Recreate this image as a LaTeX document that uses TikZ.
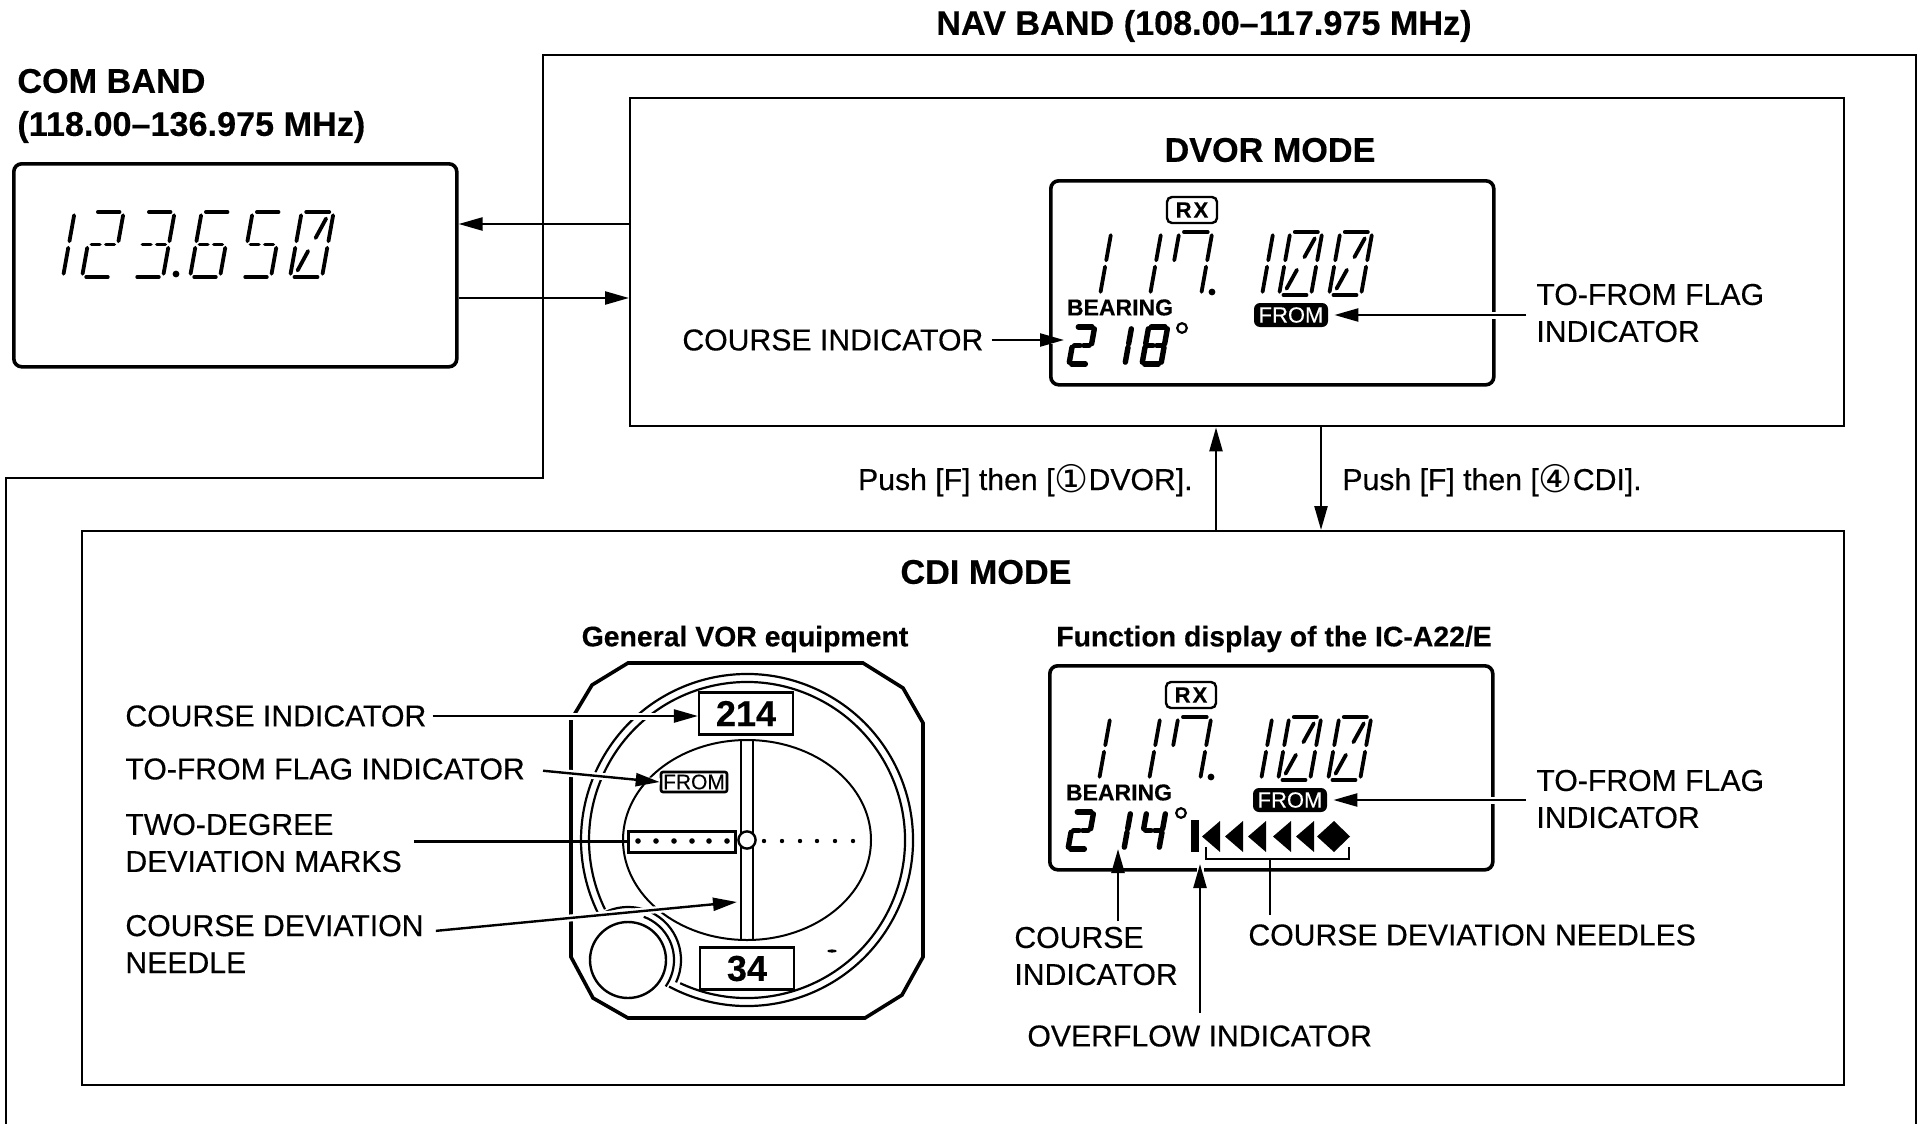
\documentclass[tikz,border=0pt]{standalone}
\usepackage{fontspec}
\setmainfont{Liberation Sans}[RawFeature={embolden=0.35}]
\newfontfamily\symfont{DejaVu Sans}
\usetikzlibrary{arrows.meta,calc}

\tikzset{
    label/.style={inner sep=0pt,anchor=west,align=left,font=\fontsize{15.1}{18.5}\selectfont},
    bandtitle/.style={inner sep=0pt,align=left,font=\bfseries\fontsize{17.1}{21}\selectfont},
    subtitle/.style={inner sep=0pt,font=\bfseries\fontsize{14.2}{17}\selectfont},
    framebox/.style={draw,line width=1.2pt,anchor=north west,inner sep=0pt},
    lcdbox/.style={draw,line width=1.8pt,rounded corners=4pt,anchor=north west,inner sep=0pt},
    flagbox/.style={fill=black,text=white,rounded corners=3pt,inner sep=0pt,minimum width=37pt,minimum height=12pt,font=\fontsize{11}{12}\selectfont},
    rxbox/.style={draw,line width=1.2pt,rounded corners=2.5pt,inner sep=0pt,minimum width=25pt,minimum height=13pt,font=\bfseries\fontsize{11}{12}\selectfont},
    readout/.style={draw,line width=1.1pt,fill=white,inner sep=0pt,minimum width=47pt,minimum height=21pt,font=\bfseries\fontsize{18}{20}\selectfont},
    flecha/.style={-{Triangle[length=12pt,width=6.5pt]},line width=1.2pt},
    halo/.style={preaction={draw=white,line width=3.5pt,-}},
    lcdseg/.style={line width=1.9pt,line cap=round},
}

% Segments of one LCD digit, 1 wide and 2 high
\newcommand{\lcdA}{\draw[lcdseg] (.14,2) -- (.86,2);}
\newcommand{\lcdB}{\draw[lcdseg] (1,1.1) -- (1,1.9);}
\newcommand{\lcdC}{\draw[lcdseg] (1,.1) -- (1,.9);}
\newcommand{\lcdD}{\draw[lcdseg] (.14,0) -- (.86,0);}
\newcommand{\lcdE}{\draw[lcdseg] (0,.1) -- (0,.9);}
\newcommand{\lcdF}{\draw[lcdseg] (0,1.1) -- (0,1.9);}
\newcommand{\lcdL}{\draw[lcdseg] (.12,1) -- (.4,1);}
\newcommand{\lcdR}{\draw[lcdseg] (.6,1) -- (.88,1);}
\newcommand{\lcdS}{\draw[lcdseg] (.8,1.8) -- (.58,1.2);}
\newcommand{\lcdT}{\draw[lcdseg] (.42,.8) -- (.2,.2);}
\newcommand{\lcddigit}[5]{%
    \begin{scope}[shift={(#1,#2)},x=#3*0.5pt,y=#4*0.25pt,xslant=.18]
        \foreach \s in {#5} {\csname lcd\s\endcsname}
    \end{scope}}

% Display shared by both modes
\newcommand{\lcdpanel}[5]{%
    \begin{scope}[shift={(#2,#3)}]
        \node[lcdbox,minimum width=221.5pt,minimum height=102pt] (#1lcd) at (1048,664) {};
        \node[rxbox] (#1rx) at (1191,695) {R\kern1pt X};
        \lcddigit{1099}{780}{30}{63}{F,E}
        \lcddigit{1149}{780}{30}{63}{F,E}
        \lcddigit{1167}{780}{33}{63}{A,B,C,F}
        \fill (1211,777) circle (1.7pt);
        \lcddigit{1261}{780}{30}{63}{F,E}
        \lcddigit{1278}{780}{32}{63}{A,B,C,D,E,F,S,T}
        \lcddigit{1328}{780}{32}{63}{A,B,C,D,E,F,S,T}
        \node[inner sep=0pt,font=\bfseries\fontsize{11.5}{12}\selectfont] (#1bearing) at (1119,792.5) {BEARING};
        \node[flagbox] (#1from) at (1290,800) {FROM};
        \begin{scope}[lcdseg/.style={line width=2.7pt,line cap=round}]
            \lcddigit{1068}{849}{19}{37}{A,B,L,R,E,D}
            \lcddigit{1124}{849}{19}{37}{F,E}
            \lcddigit{#4}{849}{19}{37}{#5}
        \end{scope}
        \draw[line width=1.1pt] (1181,813) circle (2.4pt);
    \end{scope}}

\begin{document}
\begin{tikzpicture}[x=0.5pt,y=-0.5pt]
    \useasboundingbox (0,0) rectangle (1922,1124);

    % Frame of the nav band
    \draw[line width=1.2pt] (6,1124) -- (6,478) -- (543,478) -- (543,55) -- (1916,55) -- (1916,1124);
    \node[bandtitle] (navtitle) at (1204,26) {NAV BAND (108.00–117.975 MHz)};

    % Com band
    \node[bandtitle,anchor=west] (comtitle) at (17,81) {COM BAND};
    \node[bandtitle,anchor=west] (comrange) at (17,127) {(118.00–136.975 MHz)};
    \node[lcdbox,minimum width=221.5pt,minimum height=101.5pt] (combox) at (12,162) {};
    \lcddigit{63}{277}{30}{65}{F,E}
    \lcddigit{82}{277}{30}{65}{A,B,L,R,E,D}
    \lcddigit{133}{277}{30}{65}{A,B,L,R,C,D}
    \fill (176,274) circle (1.7pt);
    \lcddigit{190}{277}{30}{65}{A,F,L,R,E,C,D}
    \lcddigit{241}{277}{30}{65}{A,F,L,R,C,D}
    \lcddigit{290}{277}{32}{65}{A,B,C,D,E,F,S,T}

    % DVOR mode
    \node[framebox,minimum width=607pt,minimum height=164pt] (dvorbox) at (629,97) {};
    \node[bandtitle] (dvortitle) at (1270,150) {DVOR MODE};
    \lcdpanel{dvor}{1}{-485}{1141}{A,B,C,D,E,F,L,R}
    \coordinate (dvordigit) at (1064,340);
    \node[label] (dvorcourse) at (682,340) {COURSE INDICATOR};
    \node[label] (dvorflag) at (1536,313) {TO-FROM FLAG\\INDICATOR};
    \draw[flecha,halo,shorten <=4pt] (dvorcourse.east) -- (dvordigit);
    \draw[flecha,halo,shorten <=5pt,shorten >=3pt] (dvorfrom.east -| dvorflag.west) -- (dvorfrom.east);

    % Links between the com band and DVOR mode
    \coordinate (comout) at (456,298);
    \coordinate (comin) at (456,224);
    \draw[flecha] (dvorbox.west |- comin) -- (combox.east |- comin);
    \draw[flecha] (combox.east |- comout) -- (dvorbox.west |- comout);

    % CDI mode
    \node[framebox,minimum width=881pt,minimum height=277pt] (cdibox) at (81,530) {};
    \node[bandtitle] (cdititle) at (986,572) {CDI MODE};
    \node[subtitle] (vortitle) at (745,639) {General VOR equipment};
    \node[subtitle] (functitle) at (1274,639) {Function display of the IC-A22/E};

    % Links between the two modes
    \coordinate (pushup) at (1216,490);
    \coordinate (pushdown) at (1321,490);
    \draw[flecha] (pushup |- cdibox.north) -- (pushup |- dvorbox.south);
    \draw[flecha] (pushdown |- dvorbox.south) -- (pushdown |- cdibox.north);
    \node[label,anchor=base east] (pushdvor) at (1193,490) {Push [F] then [\raisebox{-1.4pt}{\symfont\fontsize{19}{16}\selectfont ①}DVOR].};
    \node[label,anchor=base west] (pushcdi) at (1342,490) {Push [F] then [\raisebox{-1.4pt}{\symfont\fontsize{19}{16}\selectfont ④}CDI].};

    % VOR instrument
    \coordinate (dial) at (747,840);
    \coordinate (knob) at (628,960);
    \draw[line width=1pt] (dial) ellipse [x radius=62pt,y radius=50pt];
    \fill[white] (knob) circle (27pt);
    \draw[line width=1.8pt] (628,663) -- (863,663) -- (903,688) -- (923,723) -- (923,957) -- (902,995) -- (865,1018)
        -- (628,1018) -- (593,998) -- (571,957) -- (571,720) -- (592,685) -- cycle;
    \draw[line width=1.1pt] ([shift={(242:83pt)}]dial) arc[start angle=242,end angle=566,radius=83pt];
    \draw[line width=1.1pt] ([shift={(245:79pt)}]dial) arc[start angle=245,end angle=566,radius=79pt];
    \draw[line width=1.1pt] ([shift={(-25:26.5pt)}]knob) arc[start angle=-25,end angle=118,radius=26.5pt];
    \draw[line width=1.1pt] ([shift={(-35:23pt)}]knob) arc[start angle=-35,end angle=70,radius=23pt];
    \draw[line width=1.2pt] (knob) circle (19pt);
    \draw[line width=1.1pt] (741,740) -- (741,940);
    \draw[line width=1.1pt] (753,740) -- (753,940);
    \node[draw,line width=1.5pt,fill=white,inner sep=0pt,minimum width=53.5pt,minimum height=10.5pt,anchor=east] (marks) at (737,841.5) {};
    \foreach \x in {638,656,674,692,709,727} \fill (\x,841) circle (1.4pt);
    \foreach \x in {764,782,800,817,835,853} \fill (\x,841) circle (1.1pt);
    \draw[line width=1.2pt,fill=white] (dial) circle (4.3pt);
    \node[readout] (course) at (746,713.5) {214};
    \node[readout] (reciprocal) at (747,968.5) {34};
    \node[draw,line width=1.3pt,rounded corners=1pt,inner sep=0pt,minimum width=33pt,minimum height=10pt,font=\fontsize{10.5}{11}\selectfont] (vorfrom) at (694,782) {FROM};
    \fill (832,951) ellipse [x radius=2.4pt,y radius=.8pt];
    \coordinate (needle) at (737,902);

    % Labels of the instrument
    \node[label] (vorcourse) at (125,716) {COURSE INDICATOR};
    \node[label] (vorflag) at (125,769) {TO-FROM FLAG INDICATOR};
    \node[label] (vormarks) at (125,843) {TWO-DEGREE\\DEVIATION MARKS};
    \node[label] (vorneedle) at (125,944) {COURSE DEVIATION\\NEEDLE};
    \draw[flecha,halo,shorten <=3pt] (vorcourse.east) -- (course.west |- vorcourse.east);
    \draw[flecha,halo,shorten <=9pt] (vorflag.east) -- (vorfrom.west);
    \draw[line width=1.2pt] (414,841.5) -- (marks.west);
    \draw[flecha,halo,shorten <=6pt] (vorneedle.east) ++(0,-12) -- (needle);

    % Display of the radio in CDI mode
    \lcdpanel{cdi}{0}{0}{1140}{F,L,R,B,C}
    \fill (1191,820) rectangle (1199,852);
    \foreach \t in {1202,1225,1248,1273,1296} \fill (\t,836.5) -- (\t+18,821) -- (\t+18,852) -- cycle;
    \fill (1317,836.5) -- (1334,821) -- (1350,836.5) -- (1334,852) -- cycle;
    \draw[line width=1.2pt] (1206,847) -- (1206,859) -- (1349,859) -- (1349,847);
    \coordinate (needles) at (1270,859);
    \coordinate (digitone) at (1118,849);
    \coordinate (overflow) at (1200,864);

    % Labels of the display
    \node[label] (cdiflag) at (1536,799) {TO-FROM FLAG\\INDICATOR};
    \node[label] (cdicourse) at (1014,956) {COURSE\\INDICATOR};
    \node[label] (cdineedles) at (1248,935) {COURSE DEVIATION NEEDLES};
    \node[label] (cdioverflow) at (1027,1036) {OVERFLOW INDICATOR};
    \draw[flecha,halo,shorten <=5pt,shorten >=3pt] (cdifrom.east -| cdiflag.west) -- (cdifrom.east);
    \draw[flecha,halo] (digitone |- cdicourse.north) ++(0,-5) -- (digitone);
    \draw[flecha,halo] (overflow |- cdioverflow.north) ++(0,-12) -- (overflow);
    \draw[line width=1.2pt] (needles) -- ($(needles |- cdineedles.north)+(0,-9)$);
\end{tikzpicture}
\end{document}
